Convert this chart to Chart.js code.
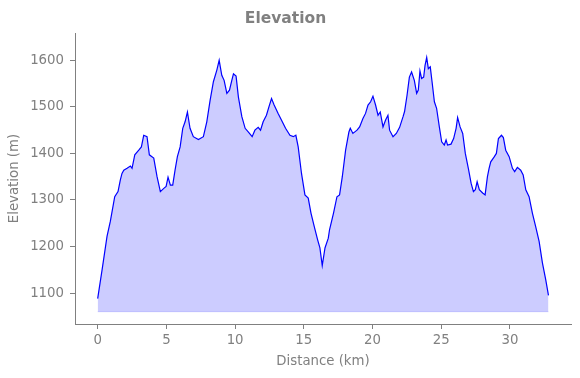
<!DOCTYPE html>
<html lang="en">
<head>
    <meta charset="UTF-8">
    <title>Elevation</title>
    <script src="https://cdn.jsdelivr.net/npm/chart.js"></script>
    <style>
        body { margin: 0; background: #fff; }
        #wrap { width: 580px; height: 378px; }
    </style>
</head>
<body>
    <div id="wrap">
        <canvas id="elevationChart"></canvas>
    </div>
    <script>
        // profile: distance (km) and elevation (m)
        const distanceKm = [
            0.00, 0.32, 0.68, 0.92, 1.24, 1.48, 1.65, 1.77, 1.90, 2.14,
            2.38, 2.50, 2.70, 2.99, 3.18, 3.35, 3.59, 3.76, 4.08, 4.32,
            4.56, 4.81, 4.98, 5.12, 5.29, 5.46, 5.63, 5.80, 6.00, 6.19,
            6.36, 6.53, 6.72, 6.96, 7.33, 7.69, 7.94, 8.18, 8.42, 8.67,
            8.84, 9.03, 9.20, 9.40, 9.59, 9.76, 9.88, 10.07, 10.24, 10.49,
            10.73, 10.97, 11.24, 11.44, 11.68, 11.85, 12.04, 12.28, 12.46, 12.65,
            12.84, 13.13, 13.37, 13.67, 13.99, 14.23, 14.42, 14.59, 14.83, 15.08,
            15.32, 15.52, 15.76, 16.00, 16.17, 16.34, 16.54, 16.78, 16.87, 17.16,
            17.41, 17.60, 17.80, 18.04, 18.28, 18.38, 18.57, 18.87, 19.06, 19.30,
            19.49, 19.67, 19.86, 20.03, 20.22, 20.40, 20.56, 20.76, 20.95, 21.12,
            21.24, 21.49, 21.73, 21.97, 22.22, 22.33, 22.51, 22.68, 22.84, 23.04,
            23.21, 23.33, 23.45, 23.57, 23.72, 23.82, 23.94, 24.06, 24.20, 24.33,
            24.50, 24.66, 24.86, 25.03, 25.22, 25.35, 25.46, 25.71, 25.90, 26.08,
            26.19, 26.37, 26.56, 26.75, 26.97, 27.17, 27.34, 27.48, 27.61, 27.77,
            28.01, 28.19, 28.36, 28.48, 28.60, 28.84, 29.01, 29.16, 29.38, 29.52,
            29.69, 29.94, 30.18, 30.34, 30.54, 30.78, 30.96, 31.15, 31.39, 31.63,
            31.87, 32.12, 32.36, 32.60, 32.80
        ];
        const elevationM = [
            1088, 1150, 1222, 1254, 1307, 1318, 1343, 1357, 1364, 1368,
            1373, 1368, 1397, 1407, 1414, 1439, 1436, 1397, 1390, 1350,
            1318, 1325, 1329, 1349, 1332, 1332, 1364, 1393, 1414, 1454,
            1468, 1489, 1454, 1436, 1430, 1436, 1468, 1514, 1554, 1579,
            1600, 1568, 1557, 1529, 1536, 1557, 1571, 1566, 1521, 1479,
            1454, 1446, 1436, 1450, 1456, 1450, 1468, 1482, 1500, 1518,
            1504, 1486, 1472, 1454, 1439, 1436, 1439, 1414, 1357, 1311,
            1304, 1272, 1243, 1215, 1197, 1159, 1197, 1218, 1236, 1272,
            1307, 1311, 1350, 1407, 1446, 1454, 1443, 1450, 1457, 1475,
            1486, 1504, 1511, 1523, 1504, 1482, 1489, 1457, 1472, 1482,
            1450, 1436, 1443, 1456, 1479, 1490, 1525, 1564, 1575, 1557,
            1529, 1536, 1577, 1561, 1564, 1589, 1606, 1582, 1586, 1554,
            1511, 1497, 1457, 1425, 1418, 1429, 1418, 1420, 1432, 1454,
            1477, 1457, 1443, 1400, 1368, 1336, 1318, 1322, 1339, 1322,
            1315, 1311, 1350, 1368, 1382, 1392, 1400, 1432, 1439, 1434,
            1407, 1393, 1368, 1361, 1370, 1364, 1354, 1322, 1307, 1272,
            1243, 1211, 1165, 1129, 1095
        ];
        const fillBase = 1060;           // bottom of the shaded area
        const xTicks = [0, 5, 10, 15, 20, 25, 30];
        const yTicks = [1100, 1200, 1300, 1400, 1500, 1600];

        const grey = '#808080';
        const font = { family: 'DejaVu Sans', size: 13.3 };

        const profile = distanceKm.map((d, i) => ({ x: d, y: elevationM[i] }));
        const baseLine = [
            { x: distanceKm[0], y: fillBase },
            { x: distanceKm[distanceKm.length - 1], y: fillBase }
        ];

        new Chart(document.getElementById('elevationChart'), {
            type: 'line',
            data: {
                datasets: [{
                    data: profile,
                    borderColor: '#0000ff',
                    borderWidth: 1.2,
                    backgroundColor: 'rgba(0, 0, 255, 0.2)',
                    fill: { value: fillBase },
                    pointRadius: 0,
                    tension: 0
                }, {
                    data: baseLine,
                    borderColor: 'rgba(0, 0, 255, 0.15)',
                    borderWidth: 1,
                    fill: false,
                    pointRadius: 0
                }]
            },
            options: {
                responsive: true,
                maintainAspectRatio: false,
                animation: false,
                layout: { padding: { left: 0, right: 9, top: 0, bottom: 0 } },
                plugins: {
                    legend: { display: false },
                    tooltip: { enabled: false },
                    title: {
                        display: true,
                        text: 'Elevation',
                        color: grey,
                        font: { family: 'DejaVu Sans', size: 15.5, weight: 'bold', lineHeight: 1.2 },
                        padding: { top: 10, bottom: 4.5 }
                    }
                },
                scales: {
                    x: {
                        type: 'linear',
                        min: -1.65,
                        max: 34.44,
                        afterFit: s => { s.height = 54; },
                        afterBuildTicks: s => { s.ticks = xTicks.map(v => ({ value: v })); },
                        grid: { drawOnChartArea: false, drawTicks: true, tickLength: 5, color: grey },
                        border: { display: true, color: grey },
                        ticks: { color: grey, font: font, padding: 4, maxRotation: 0, callback: v => String(v) },
                        title: {
                            display: true,
                            text: 'Distance (km)',
                            color: grey,
                            font: font,
                            padding: { top: 2, bottom: 8 }
                        }
                    },
                    y: {
                        min: 1033.6,
                        max: 1658.5,
                        afterFit: s => { s.width = 75; },
                        afterBuildTicks: s => { s.ticks = yTicks.map(v => ({ value: v })); },
                        grid: { drawOnChartArea: false, drawTicks: true, tickLength: 5, color: grey },
                        border: { display: true, color: grey },
                        ticks: { color: grey, font: font, padding: 6, callback: v => String(v) },
                        title: {
                            display: true,
                            text: 'Elevation (m)',
                            color: grey,
                            font: font,
                            padding: { top: 7, bottom: 2 }
                        }
                    }
                }
            }
        });
    </script>
</body>
</html>
